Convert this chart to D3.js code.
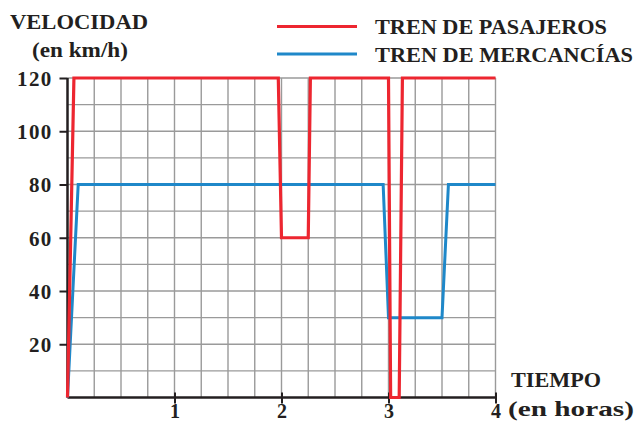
<!DOCTYPE html>
<html>
<head>
<meta charset="utf-8">
<script src="https://cdn.jsdelivr.net/npm/d3@7"></script>
<style>
  html, body { margin: 0; padding: 0; background: #fff; }
  svg { display: block; }
  text { font-family: "Liberation Serif", "Times New Roman", serif; font-weight: 700; fill: #231f20; }
</style>
</head>
<body>
<svg id="chart" width="637" height="423"></svg>
<script>
// ---- data ----
const passengerTime  = [0, 0.06, 1.97, 2.0, 2.25, 2.27, 3.0, 3.02, 3.1, 3.13, 4];
const passengerSpeed = [0, 120, 120, 60, 60, 120, 120, 0, 0, 120, 120];
const freightTime    = [0, 0.1, 2.95, 3.0, 3.5, 3.56, 4];
const freightSpeed   = [0, 80, 80, 30, 30, 80, 80];
const xTickValues = [1, 2, 3, 4];
const yTickValues = [20, 40, 60, 80, 100, 120];
const seriesNames = ["TREN DE PASAJEROS", "TREN DE MERCANCÍAS"];

const red = "#ed2630", blue = "#1f88c9";
const svg = d3.select("#chart");

const x = d3.scaleLinear().domain([0, 4]).range([67.5, 495.5]);
const y = d3.scaleLinear().domain([0, 120]).range([397.5, 78]);

// grid
const grid = svg.append("g");
grid.selectAll("line.v").data(d3.range(0.25, 4.001, 0.25)).join("line")
  .attr("x1", d => x(d)).attr("x2", d => x(d))
  .attr("y1", y(0)).attr("y2", y(120))
  .attr("stroke", "#9a9a9a").attr("stroke-width", 1.4);
grid.selectAll("line.h").data(d3.range(10, 120.1, 10)).join("line")
  .attr("x1", x(0)).attr("x2", x(4))
  .attr("y1", d => y(d)).attr("y2", d => y(d))
  .attr("stroke", "#9a9a9a").attr("stroke-width", 1.4);

// axes
const yAxis = d3.axisLeft(y).tickValues(yTickValues).tickSize(8).tickFormat(d3.format("d"));
const yg = svg.append("g").attr("transform", `translate(${x(0)},0)`).call(yAxis);
yg.attr("font-size", null).attr("font-family", null);
yg.select(".domain").attr("stroke", "#231f20").attr("stroke-width", 2.5).attr("d", `M0,${y(120)}V${y(0)}`);
yg.selectAll(".tick line").attr("stroke", "#231f20").attr("stroke-width", 2);
yg.selectAll(".tick text").attr("x", -15).attr("dy", "0.35em")
  .style("font-size", "21px").style("letter-spacing", "1.3px").attr("fill", "#231f20");

const xAxis = d3.axisBottom(x).tickValues(xTickValues).tickSize(6).tickFormat(d3.format("d"));
const xg = svg.append("g").attr("transform", `translate(0,${y(0)})`).call(xAxis);
xg.attr("font-size", null).attr("font-family", null);
xg.select(".domain").attr("stroke", "#231f20").attr("stroke-width", 2.5).attr("d", `M${x(0)},0H${x(4)}`);
xg.selectAll(".tick line").attr("stroke", "#231f20").attr("stroke-width", 2).attr("y1", -5).attr("y2", 6);
xg.selectAll(".tick text").attr("y", 20).attr("dy", 0)
  .style("font-size", "20px").attr("fill", "#231f20");

// lines
const line = d3.line().x(d => x(d[0])).y(d => y(d[1]));
svg.append("path").datum(d3.zip(freightTime, freightSpeed))
  .attr("d", line).attr("fill", "none").attr("stroke", blue).attr("stroke-width", 3);
svg.append("path").datum(d3.zip(passengerTime, passengerSpeed))
  .attr("d", line).attr("fill", "none").attr("stroke", red).attr("stroke-width", 3.2);

// titles
function label(txt, xx, yy, size, len) {
  const t = svg.append("text").attr("x", xx).attr("y", yy).style("font-size", size + "px").text(txt);
  if (len) t.attr("textLength", len).attr("lengthAdjust", "spacingAndGlyphs");
  return t;
}
label("VELOCIDAD", 10, 29, 21, 138);
label("(en km/h)", 32, 57, 21, 96);
label("TIEMPO", 511, 387, 21, 90);
label("(en horas)", 508, 416, 21, 126);

// legend
const legend = svg.append("g");
[[seriesNames[0], red, 26.5, 232], [seriesNames[1], blue, 54, 258]].forEach(([name, col, ly, len]) => {
  legend.append("line").attr("x1", 277).attr("x2", 357).attr("y1", ly).attr("y2", ly)
    .attr("stroke", col).attr("stroke-width", 3);
  label(name, 375, ly + 7.5, 22, len);
});
</script>
</body>
</html>
